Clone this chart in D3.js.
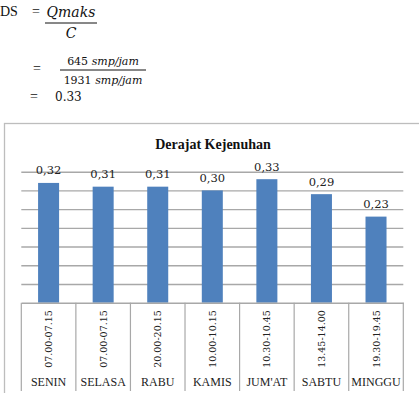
<!DOCTYPE html>
<html>
<head>
<meta charset="utf-8">
<script src="https://cdn.jsdelivr.net/npm/d3@7"></script>
<style>
  body { margin: 0; background: #fff; }
  svg { display: block; }
</style>
</head>
<body>
<div id="chart"></div>
<script>
const days = ["SENIN", "SELASA", "RABU", "KAMIS", "JUM'AT", "SABTU", "MINGGU"];
const times = ["07.00-07.15", "07.00-07.15", "20.00-20.15", "10.00-10.15", "10.30-10.45", "13.45-14.00", "19.30-19.45"];
const values = [0.32, 0.31, 0.31, 0.30, 0.33, 0.29, 0.23];
const gridTicks = [0.05, 0.10, 0.15, 0.20, 0.25, 0.30, 0.35];

const width = 419,
    height = 393,
    plotLeft = 21.3,
    plotRight = 403.3,
    plotTop = 171.7,
    base = 302.7,
    tableBottom = 391;

const svg = d3.select("#chart").append("svg")
    .attr("width", width)
    .attr("height", height);

const serif = "Liberation Serif";
const dejavu = "DejaVu Serif";

function txt(g, x, y, size, family, str) {
    return g.append("text")
        .attr("x", x).attr("y", y)
        .attr("font-size", size)
        .attr("font-family", family)
        .text(str);
}

// formula above the chart
const f = svg.append("g").attr("fill", "#111");
txt(f, 0, 16, 14, serif, "DS");
txt(f, 32, 16, 14, serif, "=");
txt(f, 71, 17, 14, dejavu, "Qmaks").attr("text-anchor", "middle").attr("font-style", "italic");
f.append("line").attr("x1", 45).attr("x2", 97).attr("y1", 23).attr("y2", 23)
    .attr("stroke", "#111").attr("stroke-width", 1);
txt(f, 71, 38, 14, dejavu, "C").attr("text-anchor", "middle").attr("font-style", "italic");

txt(f, 33, 73, 14, serif, "=");
txt(f, 103, 65, 11, dejavu, "").attr("text-anchor", "middle")
    .html("645 <tspan font-style='italic'>smp/jam</tspan>");
f.append("line").attr("x1", 60).attr("x2", 146).attr("y1", 70).attr("y2", 70)
    .attr("stroke", "#111").attr("stroke-width", 1);
txt(f, 103, 84, 11, dejavu, "").attr("text-anchor", "middle")
    .html("1931 <tspan font-style='italic'>smp/jam</tspan>");
txt(f, 30, 101, 14, serif, "=");
txt(f, 55, 101, 12, dejavu, "0.33");

// chart frame
svg.append("rect")
    .attr("x", 4.5).attr("y", 123.5)
    .attr("width", 430).attr("height", 300)
    .attr("fill", "none").attr("stroke", "#bdbdbd").attr("stroke-width", 1.3);

txt(svg, 213, 149, 14, serif, "Derajat Kejenuhan")
    .attr("text-anchor", "middle")
    .attr("font-weight", "bold")
    .attr("fill", "#111");

const x = d3.scaleBand().domain(days).range([plotLeft, plotRight]).padding(0);
const y = d3.scaleLinear().domain([0, 0.35]).range([base, plotTop]);

// gridlines
svg.append("g")
    .attr("transform", "translate(" + plotLeft + ",0)")
    .call(d3.axisLeft(y).tickValues(gridTicks).tickSize(-(plotRight - plotLeft)).tickFormat(""))
    .call(g => g.select(".domain").remove())
    .call(g => g.selectAll("line").attr("stroke", "#a8a8a8").attr("stroke-width", 1.4));

// bars
const barW = x.bandwidth() * 0.385;
svg.append("g")
    .selectAll("rect")
    .data(values)
    .enter()
    .append("rect")
    .attr("x", (d, i) => x(days[i]) + (x.bandwidth() - barW) / 2)
    .attr("y", d => y(d))
    .attr("width", barW)
    .attr("height", d => base - y(d))
    .attr("fill", "#4f81bd");

// value labels
svg.append("g")
    .attr("font-family", dejavu)
    .attr("font-size", 11.5)
    .attr("fill", "#222")
    .selectAll("text")
    .data(values)
    .enter()
    .append("text")
    .attr("x", (d, i) => x(days[i]) + x.bandwidth() / 2)
    .attr("y", d => y(d) - 8.5)
    .attr("text-anchor", "middle")
    .text(d => d3.format(".2f")(d).replace(".", ","));

// category table
const axis = svg.append("g").attr("transform", "translate(0," + base + ")")
    .call(d3.axisBottom(x).tickSize(0).tickFormat(""));
axis.select(".domain").attr("stroke", "#a8a8a8").attr("stroke-width", 1.4);

const seps = days.map(d => x(d)).concat([plotRight]);
svg.append("g")
    .selectAll("line")
    .data(seps)
    .enter()
    .append("line")
    .attr("x1", d => d).attr("x2", d => d)
    .attr("y1", base).attr("y2", tableBottom)
    .attr("stroke", "#a8a8a8").attr("stroke-width", 1.2);

svg.append("g")
    .attr("font-family", dejavu)
    .attr("font-size", 9.5)
    .attr("fill", "#222")
    .selectAll("text")
    .data(times)
    .enter()
    .append("text")
    .attr("transform", (d, i) => "translate(" + (x(days[i]) + x.bandwidth() / 2 + 3.5) + ",339) rotate(-90)")
    .attr("text-anchor", "middle")
    .text(d => d);

svg.append("g")
    .attr("font-family", serif)
    .attr("font-size", 12)
    .attr("fill", "#222")
    .selectAll("text")
    .data(days)
    .enter()
    .append("text")
    .attr("x", d => x(d) + x.bandwidth() / 2)
    .attr("y", 386)
    .attr("text-anchor", "middle")
    .text(d => d);
</script>
</body>
</html>
